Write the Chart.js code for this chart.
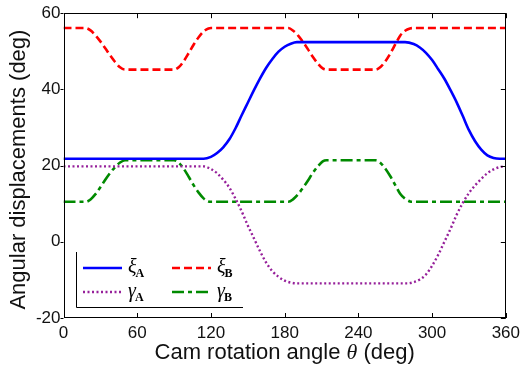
<!DOCTYPE html>
<html>
<head>
<meta charset="utf-8">
<script src="https://cdn.jsdelivr.net/npm/chart.js@4.4.0/dist/chart.umd.min.js"></script>
<style>
  html, body { margin: 0; padding: 0; background: #fff; }
  #wrap { width: 525px; height: 372px; position: relative; }
</style>
</head>
<body>
<div id="wrap"><canvas id="c" width="525" height="372"></canvas></div>
<script>
// ---- data ----
const xTicks = [0, 60, 120, 180, 240, 300, 360];
const yTicks = [-20, 0, 20, 40, 60];

// xi_A (blue solid)
const xiA_angle = [0, 114, 120, 125, 130, 135, 140, 145, 150, 155, 160, 165, 170, 175, 180, 185, 190,
                   278, 285, 290, 295, 300, 305, 310, 315, 320, 325, 330, 335, 340, 345, 350, 355, 360];
const xiA_val   = [21.8, 21.8, 22.3, 23.3, 24.8, 26.9, 29.8, 33.2, 36.5, 39.8, 42.9, 45.7, 48.0, 49.9, 51.2, 52.0, 52.4,
                   52.4, 51.9, 51.0, 49.6, 47.7, 45.3, 42.8, 39.8, 36.6, 33.0, 29.3, 26.4, 24.2, 22.7, 22.0, 21.8, 21.8];

// xi_B (red dashed)
const xiB_angle = [0, 18, 22, 26, 30, 34, 38, 42, 46, 50, 90, 94, 98, 102, 106, 110, 114, 118, 120,
                   183, 187, 191, 195, 199, 203, 207, 211, 214, 254, 258, 262, 266, 270, 274, 278, 282, 285, 360];
const xiB_val   = [56.1, 56.1, 55.5, 54.2, 52.6, 50.8, 48.9, 47.2, 45.8, 45.2, 45.2, 45.9, 47.5, 49.6, 51.8, 53.7, 55.2, 56.0, 56.1,
                   56.1, 55.4, 54.1, 52.4, 50.5, 48.5, 46.8, 45.5, 45.2, 45.2, 45.9, 47.4, 49.4, 51.8, 54.1, 55.4, 56.0, 56.1, 56.1];

// gamma_A (purple dotted)
const gaA_angle = [0, 114, 120, 125, 130, 135, 140, 145, 150, 155, 160, 165, 170, 175, 180, 185, 190,
                   280, 285, 290, 295, 300, 305, 310, 315, 320, 325, 330, 335, 340, 345, 350, 355, 360];
const gaA_val   = [19.8, 19.8, 19.1, 18.0, 16.3, 14.2, 11.3, 8.0, 4.3, 0.9, -2.5, -5.5, -7.7, -9.2, -10.2, -10.7, -10.9,
                   -10.9, -10.6, -9.9, -8.6, -6.3, -3.4, 0.0, 3.4, 7.1, 10.2, 12.8, 14.8, 16.5, 18.0, 19.0, 19.6, 19.8];

// gamma_B (green dash-dot)
const gaB_angle = [0, 18, 22, 26, 30, 34, 38, 42, 46, 50, 90, 94, 98, 102, 106, 110, 114, 118, 120,
                   183, 187, 191, 195, 199, 203, 207, 211, 214, 254, 258, 262, 266, 270, 274, 278, 282, 285, 360];
const gaB_val   = [10.5, 10.5, 11.1, 12.5, 14.3, 16.3, 18.1, 19.6, 20.8, 21.4, 21.4, 20.7, 19.1, 17.0, 14.8, 12.9, 11.4, 10.6, 10.5,
                   10.5, 11.2, 12.5, 14.2, 16.1, 18.1, 19.8, 21.1, 21.4, 21.4, 20.7, 19.2, 17.2, 14.9, 12.6, 11.3, 10.6, 10.5, 10.5];

const legendNames = [['\u03BE', 'A'], ['\u03BE', 'B'], ['\u03B3', 'A'], ['\u03B3', 'B']];

function pts(xs, ys) { return xs.map((x, i) => ({ x: x, y: ys[i] })); }

const styles = [
  { color: '#0000ff', dash: [], width: 2.6 },
  { color: '#ff0000', dash: [8, 4], width: 2.6 },
  { color: '#96209a', dash: [2, 2.5], width: 2.4 },
  { color: '#008a00', dash: [12, 4, 4, 4], width: 2.6 }
];

const series = [pts(xiA_angle, xiA_val), pts(xiB_angle, xiB_val), pts(gaA_angle, gaA_val), pts(gaB_angle, gaB_val)];

const datasets = series.map((d, i) => ({
  data: d,
  borderColor: styles[i].color,
  borderWidth: styles[i].width,
  borderDash: styles[i].dash,
  pointRadius: 0,
  fill: false,
  cubicInterpolationMode: 'monotone',
  borderCapStyle: 'butt'
}));

const decor = {
  id: 'decor',
  afterDraw(chart) {
    const ctx = chart.ctx;
    const { left, right, top, bottom } = chart.chartArea;
    const xs = chart.scales.x, ys = chart.scales.y;
    ctx.save();
    // frame
    ctx.strokeStyle = '#000';
    ctx.lineWidth = 1;
    ctx.setLineDash([]);
    ctx.strokeRect(Math.round(left) + 0.5, Math.round(top) + 0.5, Math.round(right - left) - 1, Math.round(bottom - top) - 1);
    // ticks
    ctx.beginPath();
    xTicks.forEach(v => {
      const px = Math.round(xs.getPixelForValue(v)) + 0.5;
      ctx.moveTo(px, bottom); ctx.lineTo(px, bottom - 5);
      ctx.moveTo(px, top); ctx.lineTo(px, top + 5);
    });
    yTicks.forEach(v => {
      const py = Math.round(ys.getPixelForValue(v)) + 0.5;
      ctx.moveTo(left, py); ctx.lineTo(left - 3, py);
      ctx.moveTo(right, py); ctx.lineTo(right - 5, py);
    });
    ctx.stroke();

    // axis titles
    ctx.fillStyle = '#111';
    ctx.textBaseline = 'alphabetic';
    const parts = [['Cam rotation angle ', '22px "Liberation Sans"'], ['\u03B8', 'italic 22px "Liberation Serif"'], [' (deg)', '22px "Liberation Sans"']];
    let total = 0;
    parts.forEach(p => { ctx.font = p[1]; total += ctx.measureText(p[0]).width; });
    let cx = (left + right) / 2 - total / 2;
    parts.forEach(p => { ctx.font = p[1]; ctx.textAlign = 'left'; ctx.fillText(p[0], cx, 359); cx += ctx.measureText(p[0]).width; });

    ctx.save();
    ctx.translate(25, (top + bottom) / 2 + 4);
    ctx.rotate(-Math.PI / 2);
    ctx.font = '22px "Liberation Sans"';
    ctx.textAlign = 'center';
    ctx.fillText('Angular displacements (deg)', 0, 0);
    ctx.restore();

    // legend (L-shaped border)
    ctx.strokeStyle = '#000';
    ctx.lineWidth = 1;
    ctx.beginPath();
    ctx.moveTo(76.5, 252); ctx.lineTo(76.5, 307.5); ctx.lineTo(243, 307.5);
    ctx.stroke();
    const rows = [268, 292];
    const cols = [83, 172];
    chart.data.datasets.forEach((ds, i) => {
      const r = Math.floor(i / 2), c = i % 2;
      const y = rows[r], x0 = cols[c];
      ctx.strokeStyle = ds.borderColor;
      ctx.lineWidth = ds.borderWidth;
      ctx.setLineDash(ds.borderDash);
      ctx.lineCap = 'butt';
      ctx.beginPath();
      ctx.moveTo(x0, y); ctx.lineTo(x0 + 39, y);
      ctx.stroke();
      ctx.setLineDash([]);
      ctx.fillStyle = '#000';
      ctx.textAlign = 'left';
      const tx = x0 + 45;
      ctx.font = 'italic 20px "Liberation Serif"';
      ctx.fillText(legendNames[i][0], tx, y + 5);
      const w = ctx.measureText(legendNames[i][0]).width;
      ctx.font = 'bold 12px "Liberation Serif"';
      ctx.fillText(legendNames[i][1], tx + w - 1, y + 9);
    });
    ctx.restore();
  }
};

new Chart(document.getElementById('c'), {
  type: 'line',
  data: { datasets: datasets },
  options: {
    responsive: false,
    animation: false,
    events: [],
    layout: { padding: { top: 13, right: 17, left: 0, bottom: 0 } },
    plugins: { legend: { display: false }, tooltip: { enabled: false } },
    scales: {
      x: {
        type: 'linear', min: 0, max: 360,
        afterBuildTicks: s => { s.ticks = xTicks.map(v => ({ value: v })); },
        afterFit: s => { s.height = 54; },
        grid: { display: false, drawTicks: false },
        border: { display: false },
        ticks: { padding: 5, color: '#111', font: { family: '"Liberation Sans"', size: 17 }, maxRotation: 0, autoSkip: false }
      },
      y: {
        type: 'linear', min: -20, max: 60,
        afterBuildTicks: s => { s.ticks = yTicks.map(v => ({ value: v })); },
        afterFit: s => { s.width = 63.5; },
        grid: { display: false, drawTicks: false },
        border: { display: false },
        ticks: { padding: 3, color: '#111', font: { family: '"Liberation Sans"', size: 17 } }
      }
    }
  },
  plugins: [decor]
});
</script>
</body>
</html>
